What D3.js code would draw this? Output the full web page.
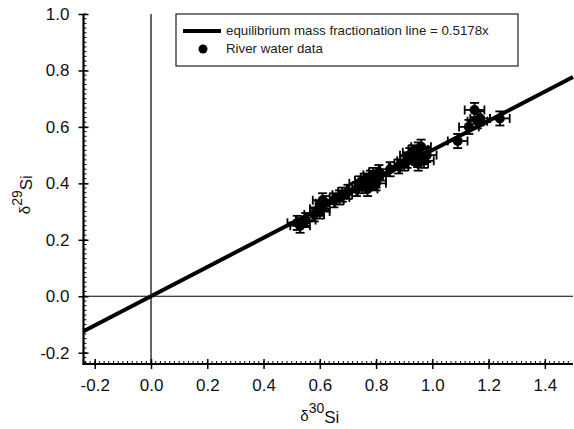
<!DOCTYPE html>
<html>
<head>
<meta charset="utf-8">
<script src="https://cdn.jsdelivr.net/npm/d3@7"></script>
<style>
  html, body { margin: 0; padding: 0; background: #fff; }
  svg { display: block; font-family: "Liberation Sans", Arial, sans-serif; }
</style>
</head>
<body>
<svg id="chart" width="574" height="429"></svg>
<script>
// River water silicon isotope data: delta-30Si vs delta-29Si
const d30 = [0.52, 0.55, 0.53, 0.58, 0.60, 0.61, 0.62, 0.60, 0.65, 0.67, 0.68, 0.70,
             0.73, 0.74, 0.75, 0.76, 0.77, 0.78, 0.79, 0.80, 0.81, 0.80,
             0.85, 0.88, 0.90, 0.91, 0.92, 0.93, 0.94, 0.95, 0.96, 0.97, 0.98, 0.95,
             1.09, 1.13, 1.15, 1.16, 1.17, 1.24];
const d29 = [0.26, 0.27, 0.25, 0.29, 0.31, 0.34, 0.33, 0.30, 0.34, 0.35, 0.36, 0.37,
             0.38, 0.40, 0.39, 0.41, 0.38, 0.42, 0.43, 0.41, 0.44, 0.40,
             0.45, 0.46, 0.47, 0.48, 0.50, 0.51, 0.49, 0.52, 0.53, 0.48, 0.50, 0.47,
             0.55, 0.60, 0.66, 0.62, 0.63, 0.63];
const errX = d30.map(() => 0.035);
const errY = d29.map(() => 0.025);

const slope = 0.5178;
const xTicks = [-0.2, 0.0, 0.2, 0.4, 0.6, 0.8, 1.0, 1.2, 1.4];
const yTicks = [-0.2, 0.0, 0.2, 0.4, 0.6, 0.8, 1.0];
const legendLabels = ["equilibrium mass fractionation line = 0.5178x", "River water data"];

const svg = d3.select("#chart");
const x = d3.scaleLinear().domain([-0.24, 1.5]).range([83.5, 573]);
const y = d3.scaleLinear().domain([-0.24, 1.0]).range([364, 14]);

const [x0, x1] = x.range();
const [yb, yt] = y.range();
const fmt = v => v.toFixed(1);   // plain hyphen for negatives

// reference lines at zero
svg.append("line").attr("x1", x(0)).attr("x2", x(0)).attr("y1", yt).attr("y2", yb)
  .attr("stroke", "#000").attr("stroke-width", 1.2);
svg.append("line").attr("x1", x0).attr("x2", x1).attr("y1", y(0)).attr("y2", y(0))
  .attr("stroke", "#000").attr("stroke-width", 1.2);

// fractionation line
const xd = x.domain();
svg.append("line")
  .attr("x1", x(xd[0])).attr("y1", y(slope * xd[0]))
  .attr("x2", x(xd[1])).attr("y2", y(slope * xd[1]))
  .attr("stroke", "#000").attr("stroke-width", 4);

// data points with error bars
const pts = d30.map((v, i) => ({ x: v, y: d29[i], ex: errX[i], ey: errY[i] }));
const g = svg.append("g").attr("stroke", "#000").attr("stroke-width", 1.8);
const cap = 4.5;
pts.forEach(p => {
  const cx = x(p.x), cy = y(p.y);
  const xl = x(p.x - p.ex), xr = x(p.x + p.ex);
  const yu = y(p.y + p.ey), yd = y(p.y - p.ey);
  g.append("line").attr("x1", xl).attr("x2", xr).attr("y1", cy).attr("y2", cy);
  g.append("line").attr("x1", xl).attr("x2", xl).attr("y1", cy - cap).attr("y2", cy + cap);
  g.append("line").attr("x1", xr).attr("x2", xr).attr("y1", cy - cap).attr("y2", cy + cap);
  g.append("line").attr("x1", cx).attr("x2", cx).attr("y1", yu).attr("y2", yd);
  g.append("line").attr("x1", cx - cap).attr("x2", cx + cap).attr("y1", yu).attr("y2", yu);
  g.append("line").attr("x1", cx - cap).attr("x2", cx + cap).attr("y1", yd).attr("y2", yd);
});
svg.append("g").selectAll("circle").data(pts).join("circle")
  .attr("cx", d => x(d.x)).attr("cy", d => y(d.y)).attr("r", 5).attr("fill", "#000");

// axes
const minorStep = 0.2 / 12;

const xAxisMajor = d3.axisBottom(x).tickValues(xTicks).tickFormat(fmt)
  .tickSizeInner(5).tickSizeOuter(0).tickPadding(10);
const gx = svg.append("g").attr("transform", `translate(0,${yb})`).call(xAxisMajor);
gx.select(".domain").remove();
gx.selectAll(".tick line").attr("y1", -5).attr("stroke-width", 1.5);
gx.selectAll(".tick text").attr("font-size", 17).attr("fill", "#111")
  .attr("font-family", "Liberation Sans, Arial, sans-serif");
// minor x ticks (inside)
svg.append("g").selectAll("line")
  .data(d3.range(-2, 105).map(i => -0.2 + i * minorStep).filter(v => v > -0.24 && v < 1.5))
  .join("line")
  .attr("x1", d => x(d)).attr("x2", d => x(d)).attr("y1", yb).attr("y2", yb - 3)
  .attr("stroke", "#000").attr("stroke-width", 1);
svg.append("line").attr("x1", x0 - 1).attr("x2", x1).attr("y1", yb).attr("y2", yb)
  .attr("stroke", "#000").attr("stroke-width", 2.2);

const yAxisMajor = d3.axisLeft(y).tickValues(yTicks).tickFormat(fmt)
  .tickSizeInner(5).tickSizeOuter(0).tickPadding(9);
const gy = svg.append("g").attr("transform", `translate(${x0},0)`).call(yAxisMajor);
gy.select(".domain").remove();
gy.selectAll(".tick line").attr("x2", 5).attr("x1", -5).attr("stroke-width", 1.5);
gy.selectAll(".tick text").attr("font-size", 17).attr("fill", "#111")
  .attr("font-family", "Liberation Sans, Arial, sans-serif");
svg.append("g").selectAll("line")
  .data(d3.range(-2, 75).map(i => -0.2 + i * minorStep).filter(v => v > -0.24 && v <= 1.0))
  .join("line")
  .attr("x1", x0).attr("x2", x0 + 3).attr("y1", d => y(d)).attr("y2", d => y(d))
  .attr("stroke", "#000").attr("stroke-width", 1);
svg.append("line").attr("x1", x0).attr("x2", x0).attr("y1", yt).attr("y2", yb + 1)
  .attr("stroke", "#000").attr("stroke-width", 2.2);

// axis titles
const xt = svg.append("text").attr("x", (x(0.6))).attr("y", 421).attr("text-anchor", "middle")
  .attr("font-size", 17).attr("fill", "#111");
xt.append("tspan").attr("font-size", 15).text("δ");
xt.append("tspan").attr("dy", -8).attr("font-size", 14).text("30");
xt.append("tspan").attr("dy", 10).text("Si");

const ytl = svg.append("text").attr("transform", `translate(30,${y(0.36)}) rotate(-90)`)
  .attr("text-anchor", "middle").attr("font-size", 17).attr("fill", "#111");
ytl.append("tspan").attr("font-size", 15).text("δ");
ytl.append("tspan").attr("dy", -8).attr("font-size", 14).text("29");
ytl.append("tspan").attr("dy", 10).text("Si");

// legend
const lg = svg.append("g");
lg.append("rect").attr("x", 176).attr("y", 14).attr("width", 342).attr("height", 52)
  .attr("fill", "#fff").attr("stroke", "#222").attr("stroke-width", 1.2);
lg.append("line").attr("x1", 183).attr("x2", 221).attr("y1", 31).attr("y2", 31)
  .attr("stroke", "#000").attr("stroke-width", 4);
lg.append("circle").attr("cx", 203).attr("cy", 49).attr("r", 4.5).attr("fill", "#000");
lg.selectAll("text.lab").data(legendLabels).join("text").attr("class", "lab")
  .attr("x", 226).attr("y", (d, i) => 35 + i * 18).attr("fill", "#222")
  .attr("font-size", 13.3).text(d => d);
</script>
</body>
</html>
